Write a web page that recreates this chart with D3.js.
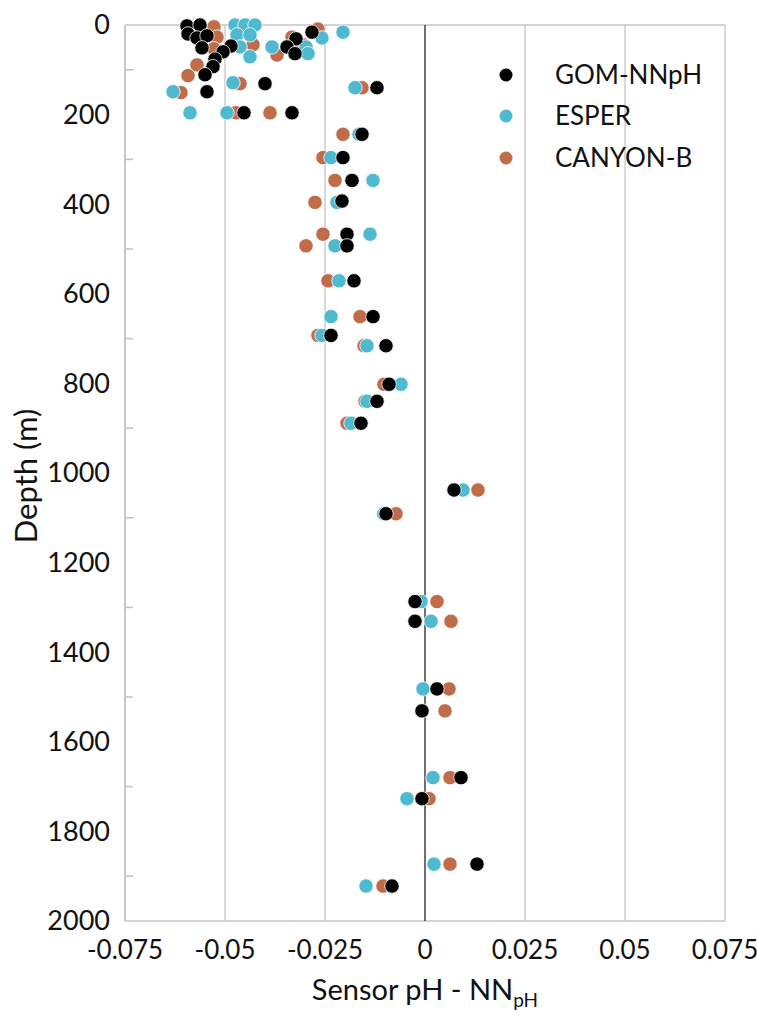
<!DOCTYPE html>
<html>
<head>
<meta charset="utf-8">
<script src="https://cdn.jsdelivr.net/npm/d3@7"></script>
<style>
  html, body { margin: 0; padding: 0; background: #fff; }
  svg { display: block; }
  text { font-family: Lato, "Open Sans", sans-serif; fill: #111; }
</style>
</head>
<body>
<svg id="chart" width="757" height="1014"></svg>
<script>
// ---------------- DATA ----------------
const seriesNames = ["GOM-NNpH", "ESPER", "CANYON-B"];
const seriesColors = ["#000000", "#4FB9D0", "#C06C48"];

const gomX = [-0.0595,-0.05625,-0.05925,-0.057,-0.0545,-0.05575,-0.0485,-0.0505,-0.0525,-0.053,-0.055,-0.0545,-0.04,-0.04525,-0.03325,-0.02825,-0.03225,-0.0345,-0.0325,-0.012,
  -0.01575,-0.0205,-0.01825,-0.02075,-0.0195,-0.0195,-0.01775,-0.013,-0.0235,-0.00975,-0.009,-0.012,-0.016,0.00725,-0.00975,-0.0025,-0.0025,0.003,-0.00075,0.009,-0.00075,0.013,-0.00825];
const gomDepth = [2,0,20,29,24,51,47,60,76,93,111,149,131,196,196,16,31,49,64,140,
  244,296,347,393,467,493,571,651,693,716,802,840,889,1038,1091,1287,1331,1482,1531,1680,1727,1873,1922];

const esperX = [-0.0475,-0.045,-0.0425,-0.047,-0.04375,-0.04625,-0.04375,-0.03825,-0.02975,-0.02925,-0.02575,-0.0205,-0.048,-0.063,-0.05875,-0.0495,-0.0175,
  -0.0165,-0.0235,-0.013,-0.022,-0.01375,-0.0225,-0.0215,-0.0235,-0.02575,-0.0145,-0.006,-0.0145,-0.0185,0.0095,-0.0103,-0.001,0.0015,-0.0005,-0.0008,0.002,-0.0045,0.00225,-0.01475];
const esperDepth = [0,0,0,22,22,49,71,49,49,64,29,16,129,149,196,196,140,
  244,296,347,396,467,493,571,651,693,716,802,840,889,1038,1091,1287,1331,1482,1531,1680,1727,1873,1922];

const canyonX = [-0.05275,-0.052,-0.05275,-0.057,-0.05925,-0.061,-0.0445,-0.043,-0.037,-0.02675,-0.03325,-0.0305,-0.04625,-0.04725,-0.03875,-0.01575,
  -0.0205,-0.0255,-0.0225,-0.0275,-0.0255,-0.02975,-0.02425,-0.01625,-0.02675,-0.01525,-0.01025,-0.015,-0.0195,0.01325,-0.00725,0.003,0.0065,0.006,0.005,0.00625,0.001,0.00625,-0.0105];
const canyonDepth = [4,27,53,89,113,151,0,44,67,9,27,44,131,196,196,140,
  244,296,347,396,467,493,571,651,693,716,802,840,889,1038,1091,1287,1331,1482,1531,1680,1727,1873,1922];

const xTicks = [-0.075, -0.05, -0.025, 0, 0.025, 0.05, 0.075];
const xTickLabels = ["-0.075", "-0.05", "-0.025", "0", "0.025", "0.05", "0.075"];
const yTicks = [0, 200, 400, 600, 800, 1000, 1200, 1400, 1600, 1800, 2000];
const yMinorTicks = [100, 300, 500, 700, 900, 1100, 1300, 1500, 1700, 1900];

// ---------------- CHART ----------------
const svg = d3.select("#chart");
const pL = 125, pR = 725, pT = 25, pB = 921;
const x = d3.scaleLinear().domain([-0.075, 0.075]).range([pL, pR]);
const y = d3.scaleLinear().domain([0, 2000]).range([pT, pB]);

const grid = svg.append("g");
grid.selectAll("line.g").data(xTicks.filter(t => t !== 0)).join("line")
  .attr("x1", d => x(d)).attr("x2", d => x(d))
  .attr("y1", pT).attr("y2", pB)
  .attr("stroke", "#d0d0d0").attr("stroke-width", 1.6);
grid.append("line").attr("x1", pL).attr("x2", pR).attr("y1", pT).attr("y2", pT)
  .attr("stroke", "#c4c4c4").attr("stroke-width", 1.6);
grid.append("line").attr("x1", pL).attr("x2", pR).attr("y1", pB).attr("y2", pB)
  .attr("stroke", "#c4c4c4").attr("stroke-width", 1.6);
grid.append("line").attr("x1", pL).attr("x2", pL).attr("y1", pT).attr("y2", pB)
  .attr("stroke", "#c4c4c4").attr("stroke-width", 1.6);
grid.append("line").attr("x1", x(0)).attr("x2", x(0)).attr("y1", pT).attr("y2", pB)
  .attr("stroke", "#333").attr("stroke-width", 1.4);

grid.selectAll("line.mt").data(yMinorTicks).join("line")
  .attr("x1", pL).attr("x2", pL + 8)
  .attr("y1", d => y(d)).attr("y2", d => y(d))
  .attr("stroke", "#c4c4c4").attr("stroke-width", 1.6);

svg.append("g").selectAll("text").data(yTicks).join("text")
  .attr("x", 110).attr("y", d => y(d)).attr("dy", "0.35em")
  .attr("text-anchor", "end").attr("font-size", 27)
  .text(d => d);

svg.append("g").selectAll("text").data(xTicks).join("text")
  .attr("x", d => x(d)).attr("y", 959)
  .attr("text-anchor", "middle").attr("font-size", 26)
  .text((d, i) => xTickLabels[i]);

svg.append("text").attr("transform", "translate(37,476) rotate(-90)")
  .attr("text-anchor", "middle").attr("font-size", 31).text("Depth (m)");
const xt = svg.append("text").attr("x", 425).attr("y", 1000)
  .attr("text-anchor", "middle").attr("font-size", 29);
xt.append("tspan").text("Sensor pH - NN");
xt.append("tspan").attr("font-size", 19).attr("dy", 7).text("pH");

const series = [
  { xs: canyonX, ds: canyonDepth, color: seriesColors[2] },
  { xs: esperX, ds: esperDepth, color: seriesColors[1] },
  { xs: gomX, ds: gomDepth, color: seriesColors[0] }
];
const pts = svg.append("g");
series.forEach(s => {
  const data = s.xs.map((v, i) => ({ v, d: s.ds[i] }));
  pts.append("g").selectAll("circle").data(data).join("circle")
    .attr("cx", p => x(p.v)).attr("cy", p => y(p.d)).attr("r", 7.2)
    .attr("fill", s.color).attr("stroke", "#fff").attr("stroke-width", 0.8);
});

const legY = [75, 116, 158];
const leg = svg.append("g");
seriesNames.forEach((n, i) => {
  leg.append("circle").attr("cx", 506).attr("cy", legY[i]).attr("r", 6.5)
    .attr("fill", seriesColors[i]);
  leg.append("text").attr("x", 555).attr("y", legY[i]).attr("dy", "0.35em")
    .attr("font-size", 26).text(n);
});
</script>
</body>
</html>
